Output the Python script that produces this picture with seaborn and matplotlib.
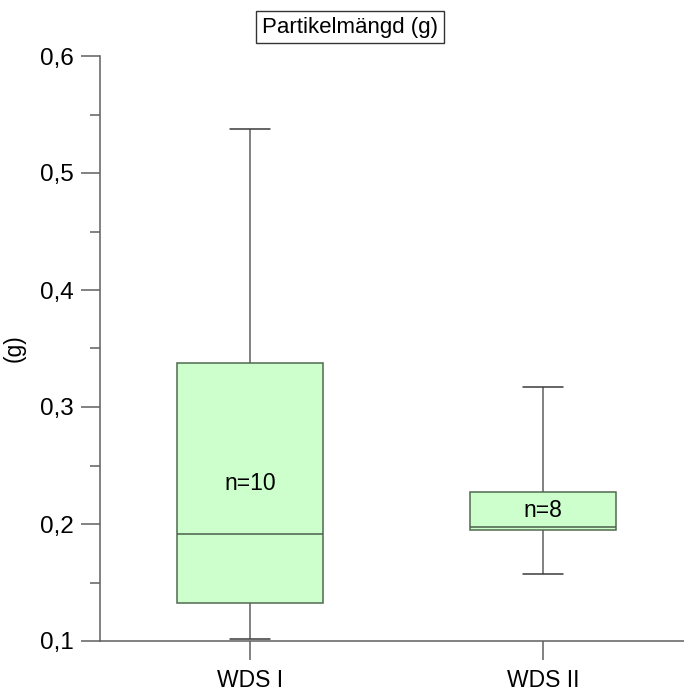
import numpy as np
import pandas as pd
import matplotlib
matplotlib.use("Agg")
import matplotlib.pyplot as plt
import seaborn as sns
from matplotlib.ticker import MultipleLocator

# ---- data ----
categories = ["WDS I", "WDS II"]
wds1_values = [0.102, 0.118, 0.130, 0.140, 0.180, 0.203, 0.300, 0.350, 0.420, 0.538]
wds2_values = [0.157, 0.190, 0.1967, 0.197, 0.198, 0.215, 0.265, 0.317]
ytick_values = [0.1, 0.2, 0.3, 0.4, 0.5, 0.6]
ytick_labels = ["0,1", "0,2", "0,3", "0,4", "0,5", "0,6"]
title_text = "Partikelmängd (g)"
ylabel_text = "(g)"

df = pd.DataFrame({
    "group": [categories[0]] * len(wds1_values) + [categories[1]] * len(wds2_values),
    "value": wds1_values + wds2_values,
})

sns.set_theme(style="white")
plt.rcParams["font.family"] = ["Liberation Sans", "DejaVu Sans"]
plt.rcParams["text.color"] = "black"
plt.rcParams["axes.labelcolor"] = "black"
plt.rcParams["xtick.labelcolor"] = "black"
plt.rcParams["ytick.labelcolor"] = "black"

W, H = 684, 697
fig = plt.figure(figsize=(W / 100, H / 100), dpi=100)
ax = fig.add_axes([100 / W, 56 / H, (W - 100) / W, (641 - 56) / H])

line_col = "#5f5f5f"
edge_col = "#4f6a4f"
sns.boxplot(
    data=df, x="group", y="value", order=categories, ax=ax,
    width=0.5, whis=(0, 100), fill=True, color="#ccffcc",
    linewidth=1.1, linecolor=line_col, showfliers=False,
    boxprops=dict(facecolor="#ccffcc", edgecolor=edge_col),
    medianprops=dict(color="#4a5e4a", linewidth=1.1),
    whiskerprops=dict(color=line_col),
    capprops=dict(color="#3a3a3a"),
)

# cap widths narrower than box
for line in ax.lines:
    xd = np.asarray(line.get_xdata(), dtype=float)
    yd = np.asarray(line.get_ydata(), dtype=float)
    if len(xd) == 2 and np.isclose(yd[0], yd[1]):
        c = xd.mean()
        half = abs(xd[1] - xd[0]) / 2
        if half < 0.2:
            line.set_xdata([c - 0.068, c + 0.068])

ax.set_ylim(0.1, 0.6)
ax.set_xlim(-150 / 293, 1 + 141 / 293)
ax.set_yticks(ytick_values)
ax.set_yticklabels(ytick_labels)
ax.yaxis.set_minor_locator(MultipleLocator(0.05))
ax.tick_params(axis="y", which="major", length=14, width=1.1, color=line_col,
               labelsize=17.5, pad=5, left=True, labelcolor="black")
ax.tick_params(axis="y", which="minor", length=7, width=1.1, color=line_col, left=True)
ax.tick_params(axis="x", which="major", length=14, width=1.1, color=line_col,
               labelsize=16.5, pad=6, bottom=True, labelcolor="black")
ax.set_xlabel("")
ax.set_ylabel(ylabel_text, fontsize=16.5, labelpad=10, color="black")

for s in ["top", "right"]:
    ax.spines[s].set_visible(False)
for s in ["left", "bottom"]:
    ax.spines[s].set_color(line_col)
    ax.spines[s].set_linewidth(1.1)

# n labels at box centers
for i, vals in enumerate([wds1_values, wds2_values]):
    q1, q3 = np.percentile(vals, [25, 75])
    ax.text(i, (q1 + q3) / 2, f"n={len(vals)}", ha="center", va="center",
            fontsize=16.5, color="black")

fig.text(350 / W, 1 - 27 / H, title_text, ha="center", va="center", fontsize=16,
         color="black",
         bbox=dict(boxstyle="square,pad=0.25", facecolor="white", edgecolor="#333333", linewidth=1.0))

fig.savefig("out.png", dpi=100)
